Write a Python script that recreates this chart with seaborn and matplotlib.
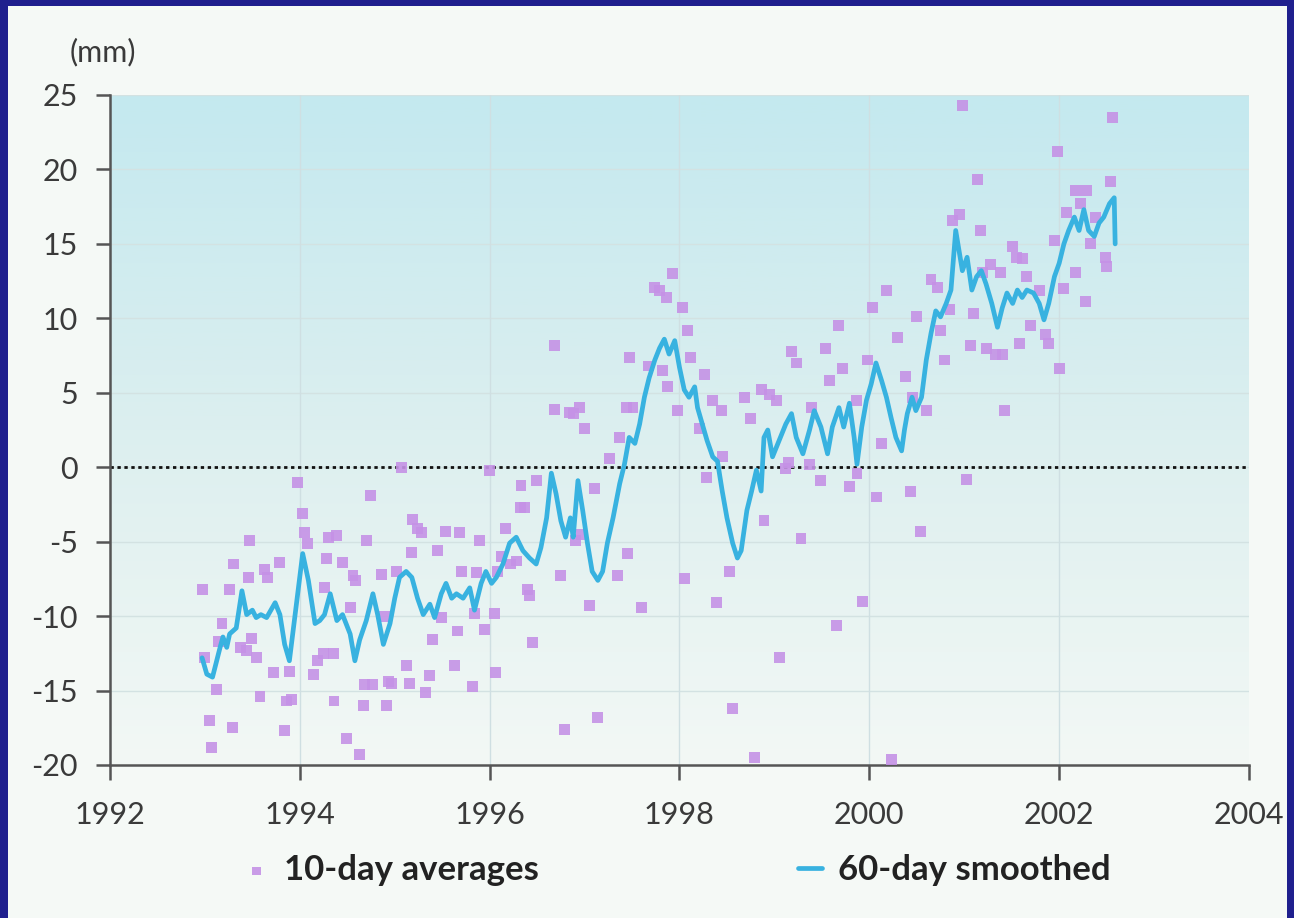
"""
Sea level change (mm), 1993-2002: 10-day averages and 60-day smoothed series.
"""

import numpy as np
import pandas as pd
import matplotlib
matplotlib.use("Agg")
import matplotlib.pyplot as plt
from matplotlib.colors import LinearSegmentedColormap
from matplotlib.patches import Rectangle
import seaborn as sns

# 10-day averages
avg_year = [
    1992.97, 1993.00, 1993.05, 1993.07, 1993.12, 1993.14, 1993.18, 1993.26, 1993.29, 1993.30,
    1993.37, 1993.44, 1993.46, 1993.47, 1993.49, 1993.54, 1993.58, 1993.63, 1993.66, 1993.72,
    1993.79, 1993.84, 1993.86, 1993.89, 1993.91, 1993.98, 1994.03, 1994.05, 1994.08, 1994.14,
    1994.19, 1994.25, 1994.26, 1994.28, 1994.30, 1994.35, 1994.36, 1994.39, 1994.45, 1994.49,
    1994.53, 1994.56, 1994.59, 1994.63, 1994.67, 1994.68, 1994.70, 1994.74, 1994.77, 1994.86,
    1994.89, 1994.91, 1994.93, 1994.97, 1995.02, 1995.07, 1995.12, 1995.16, 1995.18, 1995.19,
    1995.24, 1995.28, 1995.32, 1995.37, 1995.40, 1995.45, 1995.49, 1995.53, 1995.63, 1995.66,
    1995.68, 1995.70, 1995.82, 1995.84, 1995.86, 1995.89, 1995.95, 1996.00, 1996.05, 1996.06,
    1996.08, 1996.12, 1996.17, 1996.22, 1996.28, 1996.32, 1996.33, 1996.37, 1996.40, 1996.42,
    1996.45, 1996.49, 1996.68, 1996.68, 1996.75, 1996.79, 1996.84, 1996.88, 1996.90, 1996.95,
    1996.97, 1997.00, 1997.05, 1997.10, 1997.14, 1997.26, 1997.35, 1997.37, 1997.44, 1997.45,
    1997.47, 1997.51, 1997.60, 1997.67, 1997.74, 1997.79, 1997.82, 1997.86, 1997.87, 1997.93,
    1997.98, 1998.03, 1998.05, 1998.08, 1998.12, 1998.21, 1998.26, 1998.28, 1998.35, 1998.39,
    1998.44, 1998.45, 1998.53, 1998.56, 1998.68, 1998.75, 1998.79, 1998.86, 1998.89, 1998.95,
    1999.02, 1999.05, 1999.12, 1999.15, 1999.18, 1999.23, 1999.28, 1999.37, 1999.39, 1999.49,
    1999.54, 1999.58, 1999.65, 1999.68, 1999.72, 1999.79, 1999.86, 1999.87, 1999.93, 1999.98,
    2000.03, 2000.08, 2000.13, 2000.18, 2000.23, 2000.30, 2000.38, 2000.43, 2000.45, 2000.50,
    2000.54, 2000.60, 2000.65, 2000.72, 2000.75, 2000.79, 2000.85, 2000.88, 2000.95, 2000.98,
    2001.02, 2001.07, 2001.10, 2001.14, 2001.17, 2001.19, 2001.23, 2001.28, 2001.33, 2001.38,
    2001.40, 2001.42, 2001.51, 2001.55, 2001.58, 2001.61, 2001.66, 2001.70, 2001.79, 2001.86,
    2001.89, 2001.95, 2001.98, 2002.00, 2002.05, 2002.08, 2002.17, 2002.17, 2002.22, 2002.28,
    2002.29, 2002.33, 2002.38, 2002.49, 2002.50, 2002.54, 2002.56,
]
avg_mm = [
    -8.2, -12.8, -17.0, -18.8, -14.9, -11.7, -10.5, -8.2, -17.5, -6.5,
    -12.1, -12.3, -7.4, -4.9, -11.5, -12.8, -15.4, -6.9, -7.4, -13.8,
    -6.4, -17.7, -15.7, -13.7, -15.6, -1.0, -3.1, -4.4, -5.1, -13.9,
    -13.0, -12.5, -8.1, -6.1, -4.7, -12.5, -15.7, -4.6, -6.4, -18.2,
    -9.4, -7.3, -7.6, -19.3, -16.0, -14.6, -4.9, -1.9, -14.6, -7.2,
    -10.0, -16.0, -14.4, -14.5, -7.0, 0.0, -13.3, -14.5, -5.7, -3.5,
    -4.1, -4.4, -15.1, -14.0, -11.6, -5.6, -10.1, -4.3, -13.3, -11.0,
    -4.4, -7.0, -14.7, -9.8, -7.1, -4.9, -10.9, -0.2, -9.8, -13.8,
    -7.0, -6.0, -4.1, -6.5, -6.3, -2.7, -1.2, -2.7, -8.2, -8.6,
    -11.8, -0.9, 8.2, 3.9, -7.3, -17.6, 3.7, 3.6, -4.9, 4.0,
    -4.5, 2.6, -9.3, -1.4, -16.8, 0.6, -7.3, 2.0, 4.0, -5.8,
    7.4, 4.0, -9.4, 6.8, 12.1, 11.9, 6.5, 11.4, 5.4, 13.0,
    3.8, 10.7, -7.5, 9.2, 7.4, 2.6, 6.2, -0.7, 4.5, -9.1,
    3.8, 0.7, -7.0, -16.2, 4.7, 3.3, -19.5, 5.2, -3.6, 4.9,
    4.5, -12.8, -0.1, 0.3, 7.8, 7.0, -4.8, 0.2, 4.0, -0.9,
    8.0, 5.8, -10.6, 9.5, 6.6, -1.3, 4.5, -0.4, -9.0, 7.2,
    10.7, -2.0, 1.6, 11.9, -19.6, 8.7, 6.1, -1.6, 4.7, 10.1,
    -4.3, 3.8, 12.6, 12.1, 9.2, 7.2, 10.6, 16.6, 17.0, 24.3,
    -0.8, 8.2, 10.3, 19.3, 15.9, 13.1, 8.0, 13.6, 7.6, 13.1,
    7.6, 3.8, 14.8, 14.1, 8.3, 14.0, 12.8, 9.5, 11.9, 8.9,
    8.3, 15.2, 21.2, 6.6, 12.0, 17.1, 13.1, 18.6, 17.7, 11.1,
    18.6, 15.0, 16.8, 14.1, 13.5, 19.2, 23.5,
]

# 60-day smoothed series
smooth_year = [
    1992.97, 1993.02, 1993.08, 1993.16, 1993.19, 1993.23, 1993.26, 1993.33, 1993.39, 1993.44,
    1993.50, 1993.54, 1993.59, 1993.65, 1993.74, 1993.79, 1993.84, 1993.89, 1993.96, 1994.03,
    1994.09, 1994.16, 1994.21, 1994.26, 1994.32, 1994.39, 1994.45, 1994.53, 1994.58, 1994.63,
    1994.70, 1994.77, 1994.82, 1994.88, 1994.95, 1995.00, 1995.05, 1995.12, 1995.18, 1995.24,
    1995.30, 1995.37, 1995.42, 1995.49, 1995.54, 1995.60, 1995.65, 1995.72, 1995.79, 1995.84,
    1995.91, 1995.96, 1996.02, 1996.07, 1996.14, 1996.21, 1996.28, 1996.35, 1996.42, 1996.49,
    1996.54, 1996.60, 1996.65, 1996.70, 1996.75, 1996.80, 1996.85, 1996.88, 1996.93, 1996.98,
    1997.03, 1997.08, 1997.14, 1997.19, 1997.24, 1997.30, 1997.37, 1997.42, 1997.47, 1997.53,
    1997.58, 1997.63, 1997.68, 1997.74, 1997.79, 1997.84, 1997.89, 1997.95, 1998.00, 1998.05,
    1998.10, 1998.16, 1998.19, 1998.24, 1998.29, 1998.35, 1998.40, 1998.45, 1998.50, 1998.56,
    1998.61, 1998.65, 1998.71, 1998.76, 1998.81, 1998.86, 1998.89, 1998.93, 1998.98, 1999.05,
    1999.12, 1999.18, 1999.23, 1999.30, 1999.37, 1999.42, 1999.49, 1999.56, 1999.61, 1999.68,
    1999.73, 1999.79, 1999.84, 1999.87, 1999.92, 1999.97, 2000.02, 2000.07, 2000.13, 2000.18,
    2000.23, 2000.28, 2000.34, 2000.37, 2000.40, 2000.45, 2000.49, 2000.55, 2000.60, 2000.65,
    2000.70, 2000.75, 2000.81, 2000.86, 2000.91, 2000.98, 2001.03, 2001.08, 2001.13, 2001.18,
    2001.23, 2001.29, 2001.35, 2001.40, 2001.45, 2001.51, 2001.56, 2001.61, 2001.66, 2001.73,
    2001.79, 2001.84, 2001.89, 2001.95, 2002.00, 2002.05, 2002.10, 2002.16, 2002.21, 2002.26,
    2002.31, 2002.37, 2002.42, 2002.47, 2002.53, 2002.58, 2002.59,
]
smooth_mm = [
    -12.8, -13.9, -14.1, -12.1, -11.4, -12.1, -11.2, -10.8, -8.3, -9.9,
    -9.6, -10.1, -9.9, -10.1, -9.1, -9.9, -11.9, -13.0, -9.4, -5.8,
    -7.6, -10.5, -10.3, -9.9, -8.5, -10.3, -9.9, -11.2, -13.0, -11.6,
    -10.3, -8.5, -9.9, -11.9, -10.5, -8.8, -7.4, -7.0, -7.4, -8.8,
    -9.9, -9.2, -10.1, -8.5, -7.8, -8.8, -8.5, -8.8, -8.1, -9.6,
    -7.8, -7.0, -7.8, -7.4, -6.5, -5.1, -4.7, -5.6, -6.1, -6.5,
    -5.4, -3.4, -0.4, -1.8, -3.6, -4.7, -3.4, -4.7, -0.9, -2.9,
    -5.1, -7.0, -7.6, -7.0, -5.1, -3.4, -1.1, 0.2, 2.0, 1.6,
    2.9, 4.7, 6.0, 7.2, 8.0, 8.6, 7.6, 8.5, 6.7, 5.2,
    4.7, 5.4, 4.0, 2.9, 1.8, 0.7, 0.4, -1.6, -3.4, -5.1,
    -6.1, -5.6, -2.9, -1.6, -0.2, -1.6, 2.0, 2.5, 0.7, 1.8,
    2.9, 3.6, 2.0, 0.9, 2.5, 3.8, 2.7, 0.9, 2.7, 4.0,
    2.7, 4.3, 2.0, 0.2, 2.7, 4.5, 5.6, 7.0, 5.8, 4.7,
    3.3, 2.0, 1.1, 2.5, 3.6, 4.7, 3.8, 4.7, 7.2, 9.0,
    10.5, 10.1, 11.0, 11.9, 15.9, 13.2, 14.1, 11.9, 12.8, 13.2,
    12.3, 11.0, 9.4, 10.7, 11.7, 11.0, 11.9, 11.4, 11.9, 11.7,
    11.0, 9.9, 11.0, 12.8, 13.7, 15.0, 15.9, 16.8, 15.9, 17.3,
    15.9, 15.5, 16.4, 16.8, 17.7, 18.1, 15.0,
]

x_ticks = [1992, 1994, 1996, 1998, 2000, 2002, 2004]
y_ticks = [-20, -15, -10, -5, 0, 5, 10, 15, 20, 25]

avg_df = pd.DataFrame({"year": avg_year, "mm": avg_mm})
smooth_df = pd.DataFrame({"year": smooth_year, "mm": smooth_mm})

sns.set_theme(style="white")
plt.rcParams["font.family"] = ["Lato", "DejaVu Sans"]
plt.rcParams["axes.unicode_minus"] = False

PURPLE = "#c592e6"
CYAN = "#38b2e0"
TEXT = "#3a3a3a"
PAPER = "#f5f9f6"

fig = plt.figure(figsize=(12.94, 9.18), dpi=100)
fig.patch.set_facecolor("#1f1f8e")
fig.patches.append(Rectangle((8 / 1294, 0), (1287 - 8) / 1294, (918 - 6) / 918,
                             transform=fig.transFigure, facecolor=PAPER,
                             edgecolor="none", zorder=-10))

ax = fig.add_axes([110 / 1294, (918 - 765) / 918, (1249 - 110) / 1294, (765 - 95) / 918])
ax.set_xlim(1992, 2004)
ax.set_ylim(-20, 25)

# background gradient: light cyan at the top fading to near white
grad = LinearSegmentedColormap.from_list("bg", ["#f3f8f5", "#dcefef", "#c4e9ef"])
ax.imshow(np.linspace(0, 1, 256).reshape(-1, 1), cmap=grad, origin="lower",
          extent=[1992, 2004, -20, 25], aspect="auto", zorder=0)

for y in y_ticks[1:]:
    ax.axhline(y, color="#d3e2e2", lw=1.0, zorder=1)
for x in x_ticks[1:-1]:
    ax.axvline(x, color="#cfdfe2", lw=1.0, zorder=1)

ax.axhline(0, color="#111111", lw=2.0, ls=(0, (1.2, 1.3)), zorder=2)

sns.scatterplot(data=avg_df, x="year", y="mm", ax=ax, marker="s", s=62,
                color=PURPLE, edgecolor="none", alpha=0.9, zorder=3,
                label="10-day averages")
sns.lineplot(data=smooth_df, x="year", y="mm", ax=ax, color=CYAN, lw=3.4,
             zorder=4, label="60-day smoothed")

ax.set_xticks(x_ticks)
ax.set_yticks(y_ticks)
ax.set_xlabel("")
ax.set_ylabel("")
ax.tick_params(axis="both", which="major", direction="out", width=1.8,
               color="#555555", labelsize=22, labelcolor=TEXT, left=True, bottom=True)
ax.tick_params(axis="x", length=11, pad=15)
ax.tick_params(axis="y", length=10, pad=13)
for side in ["top", "right"]:
    ax.spines[side].set_visible(False)
for side in ["left", "bottom"]:
    ax.spines[side].set_color("#555555")
    ax.spines[side].set_linewidth(1.8)

fig.text(70 / 1294, 1 - 52 / 918, "(mm)", fontsize=22, color=TEXT, va="center", ha="left")

handles, labels = ax.get_legend_handles_labels()
leg = ax.legend(handles, labels, loc="center left", bbox_to_anchor=(213 / 1294, 1 - 870 / 918),
                bbox_transform=fig.transFigure, ncol=2, frameon=False,
                prop={"weight": "bold", "size": 25}, columnspacing=7.45,
                handlelength=0.7, handletextpad=0.45, markerscale=0.8)
for t in leg.get_texts():
    t.set_color("#222222")

fig.savefig("out.png", dpi=100, facecolor=fig.get_facecolor())
